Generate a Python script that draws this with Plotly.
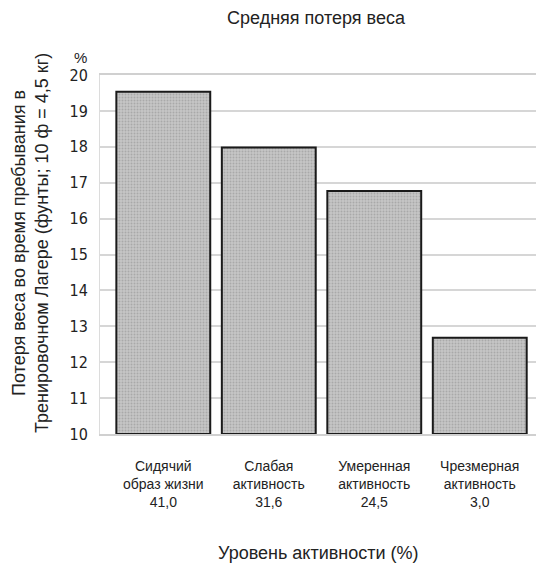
import plotly.graph_objects as go

# data
groups = ['Сидячий<br>образ жизни<br>41,0', 'Слабая<br>активность<br>31,6',
          'Умеренная<br>активность<br>24,5', 'Чрезмерная<br>активность<br>3,0']
weight_loss = [19.53, 17.98, 16.77, 12.68]
y_ticks = [10, 11, 12, 13, 14, 15, 16, 17, 18, 19, 20]
y_floor = 10

text_font = 'Liberation Sans, Arial, sans-serif'

# the page body adds an 8px margin, so the figure is 8px smaller on each side
W, H = 536, 561
L, R, T, B = 92, 2, 67, 135
plot_w = W - L - R
plot_h = H - T - B


def page_to_paper(px, py):
    return (px - 8 - L) / plot_w, (H - B - (py - 8)) / plot_h


fig = go.Figure()
fig.add_trace(go.Bar(
    x=list(range(len(groups))), y=[v - y_floor for v in weight_loss], base=y_floor,
    width=0.89,
    marker=dict(color='#bcbcbc', line=dict(color='#1a1a1a', width=2),
                pattern=dict(shape='.', fgcolor='#8c8c8c', bgcolor='#c6c6c6', size=3, solidity=0.35)),
))

fig.update_layout(
    width=W, height=H,
    margin=dict(l=L, r=R, t=T, b=B),
    plot_bgcolor='white', paper_bgcolor='white',
    showlegend=False,
    font=dict(family=text_font, color='#222'),
    xaxis=dict(range=[-0.6, 3.59], tickvals=list(range(len(groups))), ticktext=groups,
               tickfont=dict(size=14, color='#222'), ticklabelstandoff=18,
               showgrid=False, showline=True, linecolor='#d0d0d0', linewidth=2, mirror=True,
               ticks=''),
    yaxis=dict(range=[10, 20], tickvals=y_ticks,
               tickfont=dict(size=16, family='DejaVu Sans Condensed', color='#222'),
               ticklabelstandoff=8,
               showgrid=True, gridcolor='#d6d6d6', gridwidth=1.5,
               showline=True, linecolor='#dcdcdc', linewidth=1, mirror=True,
               zeroline=False, ticks=''),
)

labels = [
    ('Средняя потеря веса', 316, 18, 0, 18),
    ('%', 80, 57, 0, 15),
    ('Потеря веса во время пребывания в<br>Тренировочном Лагере (фунты; 10 ф = 4,5 кг)', 30, 243, -90, 18),
    ('Уровень активности (%)', 318, 553, 0, 18),
]
for text, px, py, angle, size in labels:
    ax, ay = page_to_paper(px, py)
    fig.add_annotation(text=text, x=ax, y=ay, xref='paper', yref='paper', showarrow=False,
                       xanchor='center', yanchor='middle',
                       textangle=angle, font=dict(size=size))

fig.write_html('out.html')
